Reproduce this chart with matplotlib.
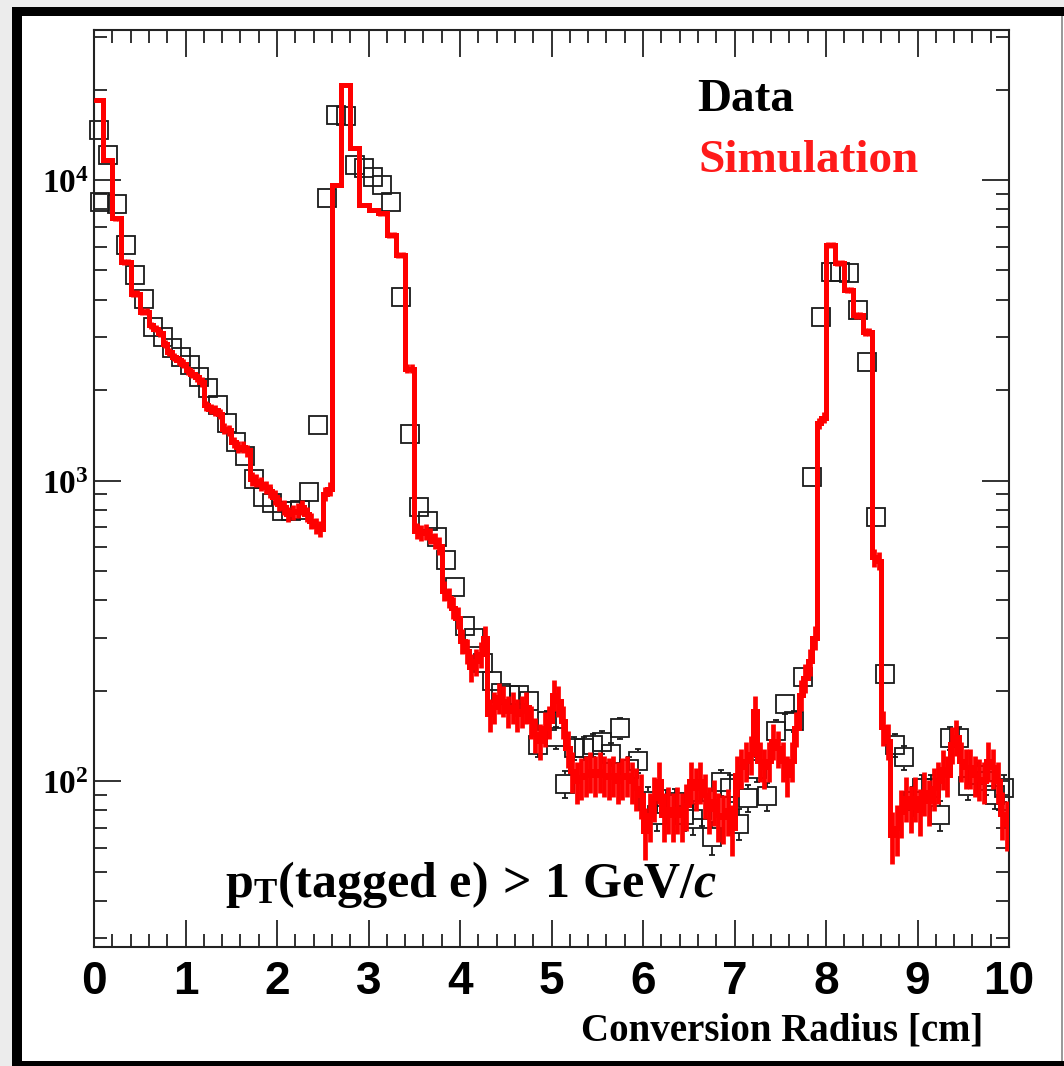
import numpy as np
import matplotlib
matplotlib.use('Agg')
from matplotlib import pyplot as plt
from matplotlib.ticker import LogLocator, MultipleLocator, FuncFormatter, NullFormatter
from matplotlib.patches import Rectangle

plt.rcParams['mathtext.fontset'] = 'custom'
plt.rcParams['mathtext.rm'] = 'Liberation Serif'
plt.rcParams['mathtext.bf'] = 'Liberation Serif:bold'
plt.rcParams['mathtext.it'] = 'Liberation Serif:italic:bold'

# Simulation histogram, 0.05 cm bins from 0 to 10 cm
sim_a = [18400, 18400, 11660, 11660, 7450, 7450, 5340, 5340, 4190, 4190, 3640, 3640]
sim_b = [3285, 3205, 3100, 2855, 2678, 2577, 2512, 2449, 2327, 2268,
         2210, 2128, 1778, 1733, 1711, 1668, 1486, 1468, 1342, 1291,
         1291, 1259, 1013, 1000, 975, 950, 926, 880, 836, 815,
         774, 784, 794, 815, 774, 736, 708, 690, 903, 938]
sim_c = [9630, 9630, 20740, 20740, 12760, 12760, 8250, 8250, 7940, 7940,
         7745, 7745, 6560, 6560, 5620, 5620, 2355, 2355]
sim_d = [681, 670, 676, 656, 631, 607]
sim_e = [430, 408, 378, 350, 293, 271, 239, 250, 264, 300]
sim_f = [167, 176, 190, 185, 171, 176, 167, 171, 176, 158, 143, 136, 150, 158]
sim_g = [194, 185, 158, 129, 108, 100, 103, 105, 108, 105,
         108, 105, 103, 105, 100, 103, 105, 100, 95, 90]
sim_h = [68, 77, 88, 100, 77, 81, 77, 81, 77, 83]
sim_i = [100, 95, 100, 90, 81, 86, 77, 76, 80, 70]
sim_j = [105, 111, 117, 123, 171, 117, 111, 117, 136, 129,
         117, 105, 117, 150, 194, 221, 250, 300]
sim_k = [1550, 1620, 6070, 6070, 5280, 5280, 4300, 4300, 3550, 3550, 3120, 3120]
sim_l = [555, 541, 151, 136, 66, 70, 79, 88, 82, 88,
         80, 92, 86, 95, 100, 110, 105, 133, 140, 117,
         111, 111, 105, 102, 100, 117, 111, 100, 78, 72]
sim_scale = 2.6  # MC weight, sets the size of the red error bars

# Data, 0.1 cm bins
data_a = [14700, 12100, 8320, 6070, 4820, 4010, 3245, 3005, 2755, 2577]
data_b = [2417, 2210, 2027, 1778, 1549, 1342, 1211, 1015, 880, 840]
data_c = [790, 790, 800, 913, 1525, 8690, 16470, 16340, 11220, 10940]
data_d = [10250, 9620, 8470, 4080, 1431, 815, 736, 647, 544, 441]
data_e = [329, 300, 248, 215, 197, 194, 194, 185, 132, 158]
data_f = [140, 98, 129, 129, 132, 135, 123, 150, 110, 117]
data_g = [86, 77, 84, 85, 77, 75, 80, 65, 99, 95]
data_h = [72, 88, 110, 89, 147, 181, 158, 222, 1026, 3500]
data_i = [4940, 4940, 4890, 3706, 2478, 755, 227, 132, 120, 86]
data_j = [95, 95, 77, 139, 139, 96, 105, 100, 90, 95]
extra_x = [0.07]
extra_y = [8470]

sim = np.array(sim_a + sim_b + sim_c + sim_d + sim_e + sim_f + sim_g
               + sim_h + sim_i + sim_j + sim_k + sim_l, dtype=float)
sim_edges = np.linspace(0, 10, len(sim) + 1)
sim_centers = 0.5 * (sim_edges[1:] + sim_edges[:-1])
sim_err = np.sqrt(sim * sim_scale)

data = np.array(data_a + data_b + data_c + data_d + data_e + data_f
                + data_g + data_h + data_i + data_j + extra_y, dtype=float)
data_x = np.concatenate([np.arange(100) * 0.1 + 0.05, extra_x])
data_err = np.sqrt(data)

W, H = 1064, 1066
def fx(px):
	return px / W
def fy(py):
	return 1 - py / H

fig = plt.figure(figsize=(W / 100, H / 100), dpi=100)
fig.patch.set_facecolor('white')

# window frame around the picture
fig.add_artist(Rectangle((0, 0), fx(12), 1, transform=fig.transFigure, color='#ececec', lw=0))
fig.add_artist(Rectangle((0, fy(7)), 1, 7 / H, transform=fig.transFigure, color='#ececec', lw=0))
fig.add_artist(Rectangle((fx(12), 0), 10 / W, fy(7), transform=fig.transFigure, color='black', lw=0))
fig.add_artist(Rectangle((fx(12), fy(16)), 1, 9 / H, transform=fig.transFigure, color='black', lw=0))
fig.add_artist(Rectangle((fx(12), 0), 1, 5 / H, transform=fig.transFigure, color='black', lw=0))
fig.add_artist(Rectangle((fx(1061), fy(1061)), 2 / W, (1061 - 16) / H, transform=fig.transFigure, color='#9a9a9a', lw=0))

ax = fig.add_axes([fx(94), fy(947), 915 / W, 917 / H])
ymin, ymax = 10 ** 1.448, 10 ** 4.499
ax.set_yscale('log')
ax.set_xlim(0, 10)
ax.set_ylim(ymin, ymax)

# data: open squares, error bars only outside the marker (ROOT style)
ms = 13.5
half_dex = (ms * 100 / 72 / 2) * (np.log10(ymax) - np.log10(ymin)) / 917
sq_top = data * 10 ** half_dex
sq_bot = data * 10 ** -half_dex
up = data + data_err > sq_top
dn = data - data_err < sq_bot
ax.vlines(data_x[up], sq_top[up], (data + data_err)[up], color='#1a1a1a', lw=1.3, zorder=2)
ax.vlines(data_x[dn], (data - data_err)[dn], sq_bot[dn], color='#1a1a1a', lw=1.3, zorder=2)
ax.plot(data_x[up], (data + data_err)[up], ls='none', marker='_', ms=4, mew=1.3, color='#1a1a1a', zorder=2)
ax.plot(data_x[dn], (data - data_err)[dn], ls='none', marker='_', ms=4, mew=1.3, color='#1a1a1a', zorder=2)
ax.plot(data_x, data, ls='none', marker='s', mfc='none', mec='#1a1a1a', mew=1.3, ms=ms,
        zorder=2, clip_on=False)

ax.errorbar(sim_centers, sim, yerr=sim_err, fmt='none', ecolor='red', elinewidth=3.4, zorder=3)
ax.stairs(sim, sim_edges, color='red', lw=3.6, baseline=None, zorder=4)

ax.xaxis.set_major_locator(MultipleLocator(1))
ax.xaxis.set_minor_locator(MultipleLocator(0.2))
ax.yaxis.set_major_locator(LogLocator(base=10))
ax.yaxis.set_minor_locator(LogLocator(base=10, subs=np.arange(2, 10)))
ax.yaxis.set_major_formatter(FuncFormatter(lambda v, p: r'$\mathbf{10^{%d}}$' % round(np.log10(v))))
ax.yaxis.set_minor_formatter(NullFormatter())

ax.tick_params(which='both', direction='in', top=True, right=True, width=1.3, color='#222222')
ax.tick_params(which='major', length=19.5)
ax.tick_params(which='minor', length=9.5)
ax.tick_params(axis='x', which='major', pad=9, labelsize=33)
ax.tick_params(axis='y', which='major', pad=4, labelsize=24)
for lab in ax.get_xticklabels():
	lab.set_family(['Liberation Sans Narrow', 'Liberation Sans'])
	lab.set_fontweight('bold')
for sp in ax.spines.values():
	sp.set_linewidth(1.5)
	sp.set_color('#222222')

fig.text(fx(983), fy(1040), 'Conversion Radius [cm]', family='Liberation Serif',
         fontweight='bold', fontsize=28, ha='right', va='baseline')
fig.text(fx(697), fy(110.7), 'Data', family='Liberation Serif', fontweight='bold',
         fontsize=34, ha='left', va='baseline', color='black')
fig.text(fx(698), fy(171.7), 'Simulation', family='Liberation Serif', fontweight='bold',
         fontsize=34, ha='left', va='baseline', color='#ff1a1a')
fig.text(fx(225), fy(897), r'$\mathbf{p}_{\mathbf{T}}\mathbf{(tagged\ e)\,{>}\,1\ GeV/}\mathit{c}$',
         fontsize=36, ha='left', va='baseline')

fig.savefig('out.png', dpi=100)
